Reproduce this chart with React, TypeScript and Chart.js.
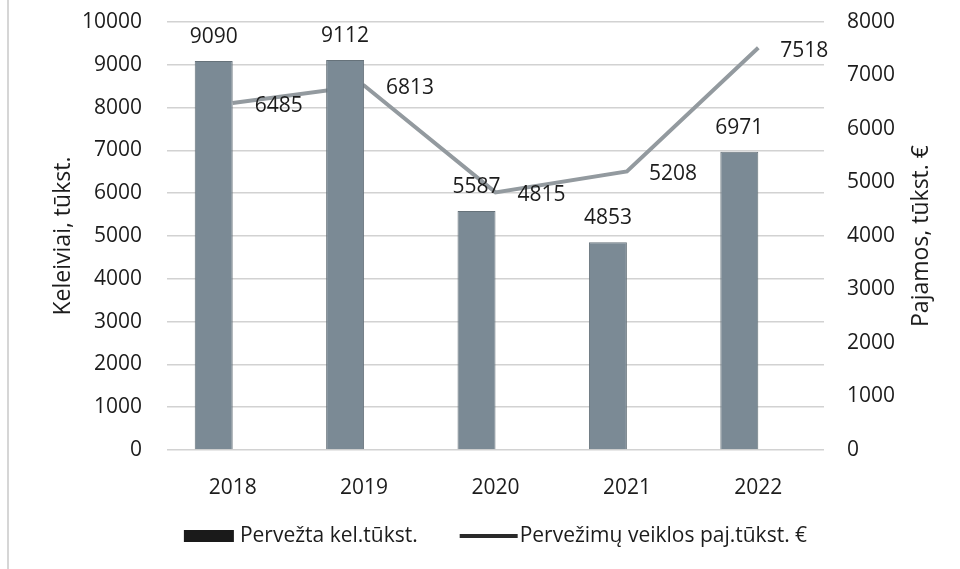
import React, { useEffect, useRef } from "react";
import { Chart, registerables } from "chart.js";

Chart.register(...registerables);

const FONT = "'Open Sans', sans-serif";

const years = ["2018", "2019", "2020", "2021", "2022"];
const passengers = [9090, 9112, 5587, 4853, 6971];
const revenue = [6485, 6813, 4815, 5208, 7518];

const leftMax = 10000;
const rightMax = 8000;
const tickStep = 1000;

const barLabel = "Pervežta kel.tūkst.";
const lineLabel = "Pervežimų veiklos paj.tūkst. €";
const leftTitle = "Keleiviai, tūkst.";
const rightTitle = "Pajamos, tūkst. €";

const TEXT = "#1c1c1c";
const BAR_FILL = "#7b8a95";
const BAR_BORDER = "#66727a";
const LINE_COLOR = "#939a9f";
const GRID = "#d2d2d2";

const valueLabels = {
  id: "valueLabels",
  afterDatasetsDraw(chart: any) {
    const ctx = chart.ctx;
    ctx.save();
    ctx.font = `21px ${FONT}`;
    ctx.fillStyle = TEXT;
    ctx.textBaseline = "middle";
    const barMeta = chart.getDatasetMeta(0);
    ctx.textAlign = "center";
    barMeta.data.forEach((el: any, i: number) => {
      ctx.fillText(String(chart.data.datasets[0].data[i]), el.x, el.y - 24);
    });
    const lineMeta = chart.getDatasetMeta(2);
    ctx.textAlign = "left";
    lineMeta.data.forEach((el: any, i: number) => {
      ctx.fillText(String(chart.data.datasets[2].data[i]), el.x + 22, el.y + 3);
    });
    ctx.restore();
  },
};

const axisTitles = {
  id: "axisTitles",
  afterDraw(chart: any) {
    const ctx = chart.ctx;
    const ca = chart.chartArea;
    const cy = (ca.top + ca.bottom) / 2;
    ctx.save();
    ctx.font = `23px ${FONT}`;
    ctx.fillStyle = TEXT;
    ctx.textAlign = "center";
    ctx.textBaseline = "middle";
    ctx.translate(63, cy);
    ctx.rotate(-Math.PI / 2);
    ctx.fillText(leftTitle, 0, 0);
    ctx.restore();
    ctx.save();
    ctx.font = `23px ${FONT}`;
    ctx.fillStyle = TEXT;
    ctx.textAlign = "center";
    ctx.textBaseline = "middle";
    ctx.translate(chart.width - 39, cy);
    ctx.rotate(-Math.PI / 2);
    ctx.fillText(rightTitle, 0, 0);
    ctx.restore();
  },
};

const customLegend = {
  id: "customLegend",
  afterDraw(chart: any) {
    const ctx = chart.ctx;
    const ca = chart.chartArea;
    ctx.save();
    ctx.font = `21px ${FONT}`;
    const items = [
      { text: barLabel, kind: "bar", sw: 50, gap: 6 },
      { text: lineLabel, kind: "line", sw: 58, gap: 2 },
    ];
    const itemGap = 42;
    const widths = items.map((it) => it.sw + it.gap + ctx.measureText(it.text).width);
    const total = widths.reduce((a, b) => a + b, 0) + itemGap * (items.length - 1);
    let x = (ca.left + ca.right) / 2 - total / 2;
    const y = chart.height - 33;
    ctx.textBaseline = "middle";
    ctx.textAlign = "left";
    items.forEach((it, i) => {
      if (it.kind === "bar") {
        ctx.fillStyle = "#1a1a1a";
        ctx.fillRect(x, y - 6, it.sw, 12);
      } else {
        ctx.strokeStyle = "#2a2a2a";
        ctx.lineWidth = 4;
        ctx.beginPath();
        ctx.moveTo(x, y);
        ctx.lineTo(x + it.sw, y);
        ctx.stroke();
      }
      ctx.fillStyle = TEXT;
      ctx.fillText(it.text, x + it.sw + it.gap, y);
      x += widths[i] + itemGap;
    });
    ctx.restore();
  },
};

const plainTick = (v: any) => String(v);

export default function App() {
  const ref = useRef<HTMLCanvasElement | null>(null);

  useEffect(() => {
    if (!ref.current) return;
    const chart = new Chart(ref.current, {
      type: "bar",
      data: {
        labels: years,
        datasets: [
          {
            type: "bar",
            label: barLabel,
            data: passengers,
            yAxisID: "y",
            backgroundColor: BAR_FILL,
            borderColor: BAR_BORDER,
            borderWidth: 1,
            barPercentage: 1,
            categoryPercentage: 0.578,
          },
          {
            type: "bar",
            label: "",
            data: years.map(() => null),
            yAxisID: "y",
            barPercentage: 1,
            categoryPercentage: 0.578,
          },
          {
            type: "line",
            label: lineLabel,
            data: revenue,
            yAxisID: "y1",
            borderColor: LINE_COLOR,
            borderWidth: 4,
            pointRadius: 0,
            tension: 0,
          },
        ],
      } as any,
      options: {
        responsive: false,
        animation: false,
        layout: { padding: { top: 22, bottom: 74, left: 0, right: 0 } },
        plugins: {
          legend: { display: false },
          tooltip: { enabled: false },
        },
        scales: {
          x: {
            offset: true,
            grid: { display: false },
            border: { display: false },
            ticks: { font: { family: FONT, size: 21 }, color: TEXT, padding: 17 },
            afterFit: (s: any) => {
              s.height = 45;
              s.paddingLeft = 0;
              s.paddingRight = 0;
            },
          },
          y: {
            position: "left",
            min: 0,
            max: leftMax,
            ticks: { stepSize: tickStep, padding: 25, font: { family: FONT, size: 21 }, color: TEXT, callback: plainTick },
            grid: { color: GRID, lineWidth: 1.5, drawTicks: false },
            border: { display: false },
            afterFit: (s: any) => {
              s.width = 167;
              s.paddingTop = 0;
              s.paddingBottom = 0;
            },
          },
          y1: {
            position: "right",
            min: 0,
            max: rightMax,
            ticks: { stepSize: tickStep, padding: 23, font: { family: FONT, size: 21 }, color: TEXT, callback: plainTick },
            grid: { display: false, drawTicks: false },
            border: { display: false },
            afterFit: (s: any) => {
              s.width = 136;
              s.paddingTop = 0;
              s.paddingBottom = 0;
            },
          },
        },
      } as any,
      plugins: [valueLabels, axisTitles, customLegend],
    });
    return () => chart.destroy();
  }, []);

  return (
    <div style={{ position: "absolute", left: 0, top: 0, width: 960, height: 569, background: "#fff" }}>
      <div style={{ position: "absolute", left: 7, top: 0, width: 2, height: 569, background: "#d6d6d6" }} />
      <canvas ref={ref} width={960} height={569} style={{ display: "block", position: "absolute", left: 0, top: 0 }} />
    </div>
  );
}
